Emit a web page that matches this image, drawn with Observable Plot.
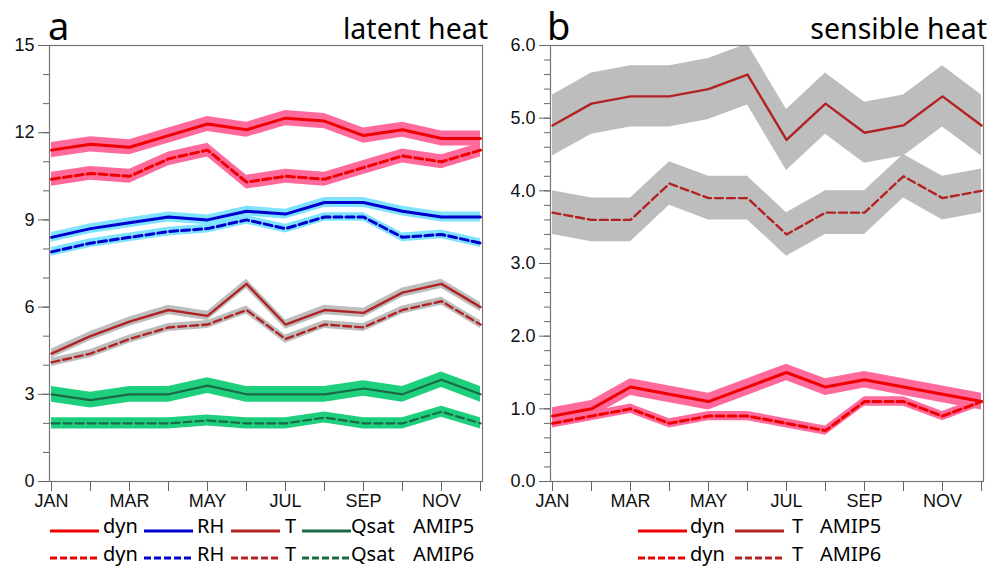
<!DOCTYPE html>
<html>
<head>
<meta charset="utf-8">
<script src="https://cdn.jsdelivr.net/npm/d3@7"></script>
<script src="https://cdn.jsdelivr.net/npm/@observablehq/plot@0.6"></script>
<style>
  html, body { margin: 0; padding: 0; background: #fff; }
  #wrap { position: relative; width: 989px; height: 569px; overflow: hidden; background: #fff; }
  .panel { position: absolute; top: 0; }
  .ttl { position: absolute; font-family: "Noto Sans", "Open Sans", sans-serif; line-height: 1; white-space: nowrap; color: #000; }
  .lg { position: absolute; font-family: "Noto Sans", "Open Sans", sans-serif; font-size: 20px; line-height: 1; white-space: nowrap; color: #000; }
  .lgline { position: absolute; }
</style>
</head>
<body>
<div id="wrap"></div>
<script>
// ---------- data ----------
const months = ["JAN","FEB","MAR","APR","MAY","JUN","JUL","AUG","SEP","OCT","NOV","DEC"];
const monthLabels = ["JAN","MAR","MAY","JUL","SEP","NOV"];

// panel a: latent heat
const yTicksA = [0, 3, 6, 9, 12, 15];
const yMinorA = [0,1,2,3,4,5,6,7,8,9,10,11,12,13,14,15];
const dynA5  = [11.4, 11.6, 11.5, 11.9, 12.3, 12.1, 12.5, 12.4, 11.9, 12.1, 11.8, 11.8];
const dynA6  = [10.4, 10.6, 10.5, 11.1, 11.4, 10.3, 10.5, 10.4, 10.8, 11.2, 11.0, 11.4];
const rhA5   = [8.4, 8.7, 8.9, 9.1, 9.0, 9.3, 9.2, 9.6, 9.6, 9.3, 9.1, 9.1];
const rhA6   = [7.9, 8.2, 8.4, 8.6, 8.7, 9.0, 8.7, 9.1, 9.1, 8.4, 8.5, 8.2];
const tA5    = [4.4, 5.0, 5.5, 5.9, 5.7, 6.8, 5.4, 5.9, 5.8, 6.5, 6.8, 6.0];
const tA6    = [4.1, 4.4, 4.9, 5.3, 5.4, 5.9, 4.9, 5.4, 5.3, 5.9, 6.2, 5.4];
const qsatA5 = [3.0, 2.8, 3.0, 3.0, 3.3, 3.0, 3.0, 3.0, 3.2, 3.0, 3.5, 3.0];
const qsatA6 = [2.0, 2.0, 2.0, 2.0, 2.1, 2.0, 2.0, 2.2, 2.0, 2.0, 2.4, 2.0];
// half-width of the shaded spread for each series (a)
const spreadA = { dynA5: 0.26, dynA6: 0.24, rhA5: 0.17, rhA6: 0.15, tA5: 0.16, tA6: 0.14, qsatA5: 0.27, qsatA6: 0.19 };

// panel b: sensible heat
const yTicksB = [0, 1, 2, 3, 4, 5, 6];
const yMinorB = [0,0.2,0.4,0.6,0.8,1,1.2,1.4,1.6,1.8,2,2.2,2.4,2.6,2.8,3,3.2,3.4,3.6,3.8,4,4.2,4.4,4.6,4.8,5,5.2,5.4,5.6,5.8,6];
const dynB5 = [0.9, 1.0, 1.3, 1.2, 1.1, 1.3, 1.5, 1.3, 1.4, 1.3, 1.2, 1.1];
const dynB6 = [0.8, 0.9, 1.0, 0.8, 0.9, 0.9, 0.8, 0.7, 1.1, 1.1, 0.9, 1.1];
const tB5   = [4.9, 5.2, 5.3, 5.3, 5.4, 5.6, 4.7, 5.2, 4.8, 4.9, 5.3, 4.9];
const tB6   = [3.7, 3.6, 3.6, 4.1, 3.9, 3.9, 3.4, 3.7, 3.7, 4.2, 3.9, 4.0];
const spreadB = { dynB5: 0.115, dynB6: 0.065, tB5: 0.42, tB6: 0.3 };

// ---------- styles ----------
const C = {
  dyn:  { line: "#ee0000", band: "#ff6a9c", w: 3 },
  rh:   { line: "#0000cc", band: "#7fe3ff", w: 3 },
  t:    { line: "#b22222", band: "#bdbdbd", w: 2.4 },
  qsat: { line: "#1b6a45", band: "#1ecf7e", w: 2.2 }
};
const DASH = "8,4";
const TICK_FONT = 18;

function rows(vals, spread) {
  return months.map((m, i) => ({ month: m, v: vals[i], lo: vals[i] - spread, hi: vals[i] + spread }));
}

function seriesMarks(list) {
  const bands = [], lines = [];
  for (const s of list) {
    const data = rows(s.vals, s.spread);
    bands.push(Plot.areaY(data, { x: "month", y1: "lo", y2: "hi", fill: s.style.band, fillOpacity: 1 }));
    lines.push(Plot.lineY(data, { x: "month", y: "v", stroke: s.style.line, strokeWidth: s.style.w, strokeDasharray: s.dashed ? DASH : null }));
  }
  return [...bands, ...lines];
}

function panel({ left, width, marginLeft, marginRight, domain, ticks, minor, fmt, series }) {
  const p = Plot.plot({
    width, height: 510,
    marginLeft, marginRight, marginTop: 45, marginBottom: 29,
    style: { fontFamily: "'Liberation Sans', Arial, sans-serif", fontSize: TICK_FONT + "px", color: "#111", background: "transparent", overflow: "visible" },
    x: { type: "point", domain: months, padding: 0 },
    y: { domain, label: null },
    clip: true,
    marks: [
      ...seriesMarks(series),
      Plot.frame({ stroke: "#777", strokeWidth: 1.2, clip: false }),
      Plot.axisY({ ticks: minor, tickSize: 6, tickFormat: () => "", stroke: "#666", label: null, clip: false }),
      Plot.axisY({ ticks, tickSize: 11, tickPadding: 4, tickFormat: fmt, stroke: "#666", fill: "#111", fontSize: TICK_FONT, fontFamily: "'Liberation Sans', Arial, sans-serif", label: null, clip: false }),
      Plot.axisX({ ticks: months, tickSize: 10, tickPadding: 3, tickFormat: d => monthLabels.includes(d) ? d : "", stroke: "#666", fill: "#111", fontSize: TICK_FONT, fontFamily: "'Liberation Sans', Arial, sans-serif", label: null, clip: false })
    ]
  });
  p.classList.add("panel");
  p.style.left = left + "px";
  return p;
}

const wrap = document.getElementById("wrap");

wrap.appendChild(panel({
  left: 0, width: 494, marginLeft: 49, marginRight: 12,
  domain: [0, 15], ticks: yTicksA, minor: yMinorA, fmt: d => String(d),
  series: [
    { vals: dynA5, spread: spreadA.dynA5, style: C.dyn, dashed: false },
    { vals: dynA6, spread: spreadA.dynA6, style: C.dyn, dashed: true },
    { vals: rhA5, spread: spreadA.rhA5, style: C.rh, dashed: false },
    { vals: rhA6, spread: spreadA.rhA6, style: C.rh, dashed: true },
    { vals: tA5, spread: spreadA.tA5, style: C.t, dashed: false },
    { vals: tA6, spread: spreadA.tA6, style: C.t, dashed: true },
    { vals: qsatA5, spread: spreadA.qsatA5, style: C.qsat, dashed: false },
    { vals: qsatA6, spread: spreadA.qsatA6, style: C.qsat, dashed: true }
  ]
}));

wrap.appendChild(panel({
  left: 495, width: 494, marginLeft: 55, marginRight: 6,
  domain: [0, 6], ticks: yTicksB, minor: yMinorB, fmt: d3.format(".1f"),
  series: [
    { vals: tB5, spread: spreadB.tB5, style: C.t, dashed: false },
    { vals: tB6, spread: spreadB.tB6, style: C.t, dashed: true },
    { vals: dynB5, spread: spreadB.dynB5, style: C.dyn, dashed: false },
    { vals: dynB6, spread: spreadB.dynB6, style: C.dyn, dashed: true }
  ]
}));

// ---------- titles ----------
function addText(cls, text, css) {
  const d = document.createElement("div");
  d.className = cls;
  d.textContent = text;
  Object.assign(d.style, css);
  wrap.appendChild(d);
  return d;
}
addText("ttl", "a", { left: "48px", top: "6px", fontSize: "38px" });
addText("ttl", "latent heat", { right: (989 - 488) + "px", top: "14px", fontSize: "28.5px" });
addText("ttl", "b", { left: "547px", top: "6px", fontSize: "38px" });
addText("ttl", "sensible heat", { right: "2px", top: "14px", fontSize: "28.5px" });

// ---------- legends ----------
const legendA = [
  { label: "dyn", style: C.dyn }, { label: "RH", style: C.rh },
  { label: "T", style: C.t }, { label: "Qsat", style: C.qsat }
];
const legendB = [ { label: "dyn", style: C.dyn }, { label: "T", style: C.t } ];
const runs = ["AMIP5", "AMIP6"];

const layoutA = { lineX: [50, 144, 231, 302], textX: [103, 197, 285, 351], runX: 413 };
const layoutB = { lineX: [638, 735], textX: [690, 792], runX: 820 };
const rowLineY = [531, 558];
const rowTextTop = [516, 544];

function legend(entries, layout) {
  runs.forEach((run, r) => {
    entries.forEach((e, i) => {
      const svg = document.createElementNS("http://www.w3.org/2000/svg", "svg");
      svg.setAttribute("width", 49); svg.setAttribute("height", 8);
      svg.setAttribute("class", "lgline");
      svg.style.left = layout.lineX[i] + "px";
      svg.style.top = (rowLineY[r] - 4) + "px";
      const ln = document.createElementNS("http://www.w3.org/2000/svg", "line");
      ln.setAttribute("x1", 0); ln.setAttribute("x2", 49);
      ln.setAttribute("y1", 4); ln.setAttribute("y2", 4);
      ln.setAttribute("stroke", e.style.line);
      ln.setAttribute("stroke-width", 3);
      if (r === 1) ln.setAttribute("stroke-dasharray", "7,3");
      svg.appendChild(ln);
      wrap.appendChild(svg);
      addText("lg", e.label, { left: layout.textX[i] + "px", top: rowTextTop[r] + "px" });
    });
    addText("lg", run, { left: layout.runX + "px", top: rowTextTop[r] + "px" });
  });
}
legend(legendA, layoutA);
legend(legendB, layoutB);
</script>
</body>
</html>
